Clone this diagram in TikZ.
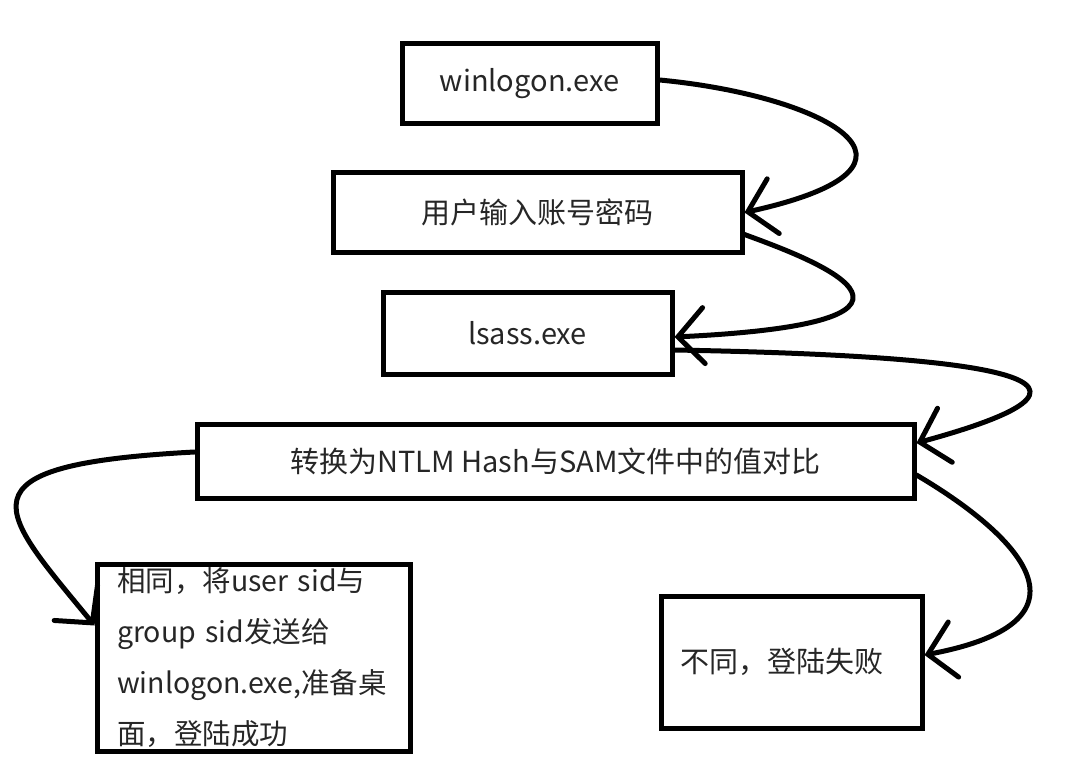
\documentclass[tikz,border=0pt]{standalone}
\usepackage{fontspec}
\newfontfamily\cjk{Noto Sans CJK SC}
\usetikzlibrary{arrows.meta}
\begin{document}
\begin{tikzpicture}[x=1pt,y=-1pt,
  box/.style={draw=black, line width=5pt, rectangle, inner sep=0pt,
    font=\cjk\fontsize{29}{34}\selectfont, text=black!85},
  conn/.style={line width=5pt, line cap=round, line join=round,
    -{Straight Barb[length=26pt,width=56pt,line cap=round]}},
]
\useasboundingbox (0,0) rectangle (1075,767);
\node[box, minimum width=255pt, minimum height=80pt] (w) at (529.5,84) {winlogon.exe\hspace{10pt}};
\node[box, minimum width=409pt, minimum height=79pt] (u) at (537.5,212.5) {用户输入账号密码\hspace{17pt}};
\node[box, minimum width=289pt, minimum height=82pt] (l) at (527.5,333) {lsass.exe\hspace{25pt}};
\node[box, minimum width=717pt, minimum height=74pt] (c) at (555.5,461) {转换为NTLM Hash与SAM文件中的值对比\hspace{26pt}};
\node[box, minimum width=313pt, minimum height=187pt, text width=273pt, inner xsep=20pt, align=left,
  font=\cjk\fontsize{28.5}{51}\selectfont] (s) at (253.5,657.5)
  {相同，将user sid与\\group sid发送给\\winlogon.exe,准备桌\\面，登陆成功};
\node[box, minimum width=261pt, minimum height=132pt, text width=223pt, inner xsep=19pt, align=left] (f) at (791.5,662) {不同，登陆失败};

\draw[conn] ([yshift=4pt]w.east) .. controls (820,95) and (960,165) .. (u.east);
\draw[conn] ([yshift=-22pt]u.east) .. controls (800,255) and (990,322) .. ([yshift=-4pt]l.east);
\draw[conn] ([yshift=-17pt]l.east) .. controls (950,355) and (1170,374) .. ([yshift=18pt]c.east);
\draw[conn] ([yshift=9pt]c.west) .. controls (-50,465) and (0,510) .. ([yshift=32pt]s.west);
\draw[conn] ([yshift=-14pt]c.east) .. controls (1010,530) and (1110,620) .. ([yshift=7pt]f.east);
\end{tikzpicture}
\end{document}
